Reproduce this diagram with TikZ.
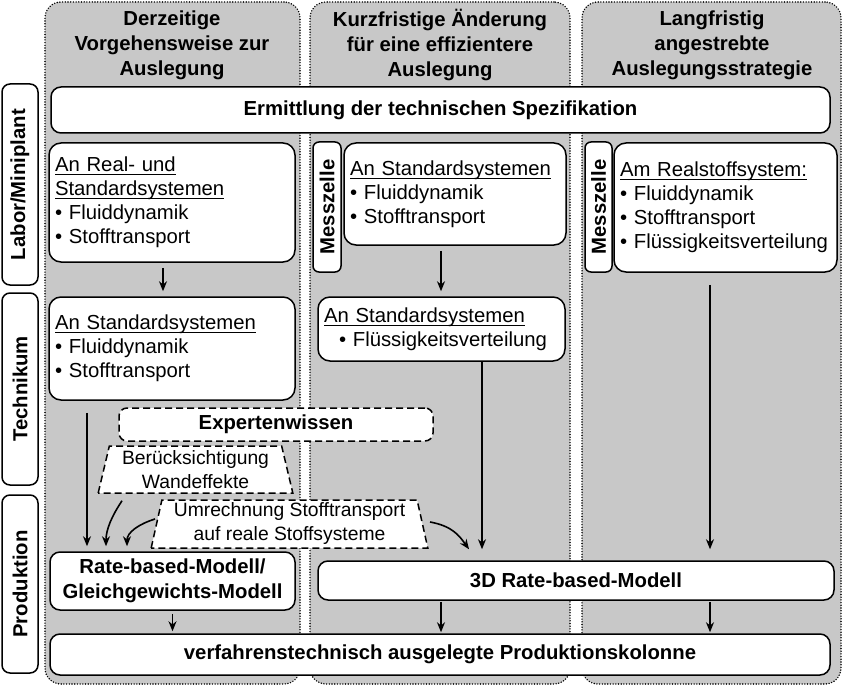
\documentclass[tikz,border=0pt]{standalone}
\usepackage{fontspec}
\setmainfont{Liberation Sans}
\usetikzlibrary{arrows.meta,shapes.geometric}
\definecolor{grau}{HTML}{C8C8C8}
\newcommand{\unterstr}[1]{\leavevmode\setbox0\hbox{#1}\rlap{\rule[-3.6pt]{\wd0}{1.2pt}}\box0}

\begin{document}
\begin{tikzpicture}[x=1pt,y=-1pt,
  font=\fontsize{20.3}{24}\selectfont,
  spalte/.style={draw,line width=1.6pt,line cap=round,dash pattern=on 0pt off 2.7pt,fill=grau,rounded corners=16pt,inner sep=0pt},
  titel/.style={font=\fontsize{20.3}{25}\selectfont\bfseries,align=center},
  ebene/.style={draw,line width=1.5pt,fill=white,rounded corners=8pt,rotate=90,font=\fontsize{20.3}{24}\selectfont\bfseries,inner sep=0pt,minimum height=36pt},
  kasten/.style={draw,line width=1.5pt,fill=white,rounded corners=12pt,inner xsep=6pt,inner ysep=0pt,align=left},
  mitte/.style={draw,line width=1.5pt,fill=white,rounded corners=10pt,inner sep=0pt,align=center,font=\fontsize{20.3}{25}\selectfont\bfseries},
  experte/.style={draw,line width=1.5pt,dash pattern=on 7pt off 4pt,fill=white,rounded corners=8pt,inner sep=0pt,font=\fontsize{20.3}{24}\selectfont\bfseries},
  trapez/.style={draw,line width=1.5pt,dash pattern=on 7pt off 4pt,fill=white,trapezium,trapezium stretches=true,inner sep=0pt,align=center,font=\fontsize{19.3}{24}\selectfont},
  pfeil/.style={-{Stealth[length=10pt,width=8pt]},line width=1.6pt}]
  \useasboundingbox (0,0) rectangle (843,687);
  % Spalten
  \node[spalte,minimum width=255pt,minimum height=682pt] (s1) at (172.5,343) {};
  \node[spalte,minimum width=260pt,minimum height=682pt] (s2) at (440,343) {};
  \node[spalte,minimum width=259pt,minimum height=682pt] (s3) at (711.5,343) {};
  % Titel
  \node[titel] (t1) at (172,45) {Derzeitige\\Vorgehensweise zur\\Auslegung};
  \node[titel] (t2) at (440,45) {Kurzfristige Änderung\\für eine effizientere\\Auslegung};
  \node[titel] (t3) at (712,45) {Langfristig\\angestrebte\\Auslegungsstrategie};
  % Ebenen
  \node[ebene,minimum width=201pt] (labor) at (20,184.5) {Labor/Miniplant};
  \node[ebene,minimum width=192pt] (technikum) at (20,389) {Technikum};
  \node[ebene,minimum width=178pt] (produktion) at (20,584) {Produktion};
  % Labor/Miniplant
  \node[mitte,minimum width=779pt,minimum height=46pt] (spez) at (440.5,110) {Ermittlung der technischen Spezifikation};
  \node[kasten,text width=234pt,minimum height=119pt] (lab1) at (172,202.5) {\unterstr{An Real- und}\\\unterstr{Standardsystemen}\\\textbullet~Fluiddynamik\\\textbullet~Stofftransport};
  \node[ebene,minimum width=130pt,minimum height=28pt,rounded corners=6pt] (mz2) at (327,207) {Messzelle};
  \node[kasten,text width=210pt,minimum height=102pt] (lab2) at (455,194) {\unterstr{An Standardsystemen}\\\textbullet~Fluiddynamik\\\textbullet~Stofftransport};
  \node[ebene,minimum width=130pt,minimum height=27pt,rounded corners=6pt] (mz3) at (598.5,207) {Messzelle};
  \node[kasten,text width=211pt,minimum height=129pt] (lab3) at (725.5,207.5) {\unterstr{Am Realstoffsystem:}\\\textbullet~Fluiddynamik\\\textbullet~Stofftransport\\\textbullet~Flüssigkeitsverteilung};
  % Technikum
  \node[kasten,text width=234pt,minimum height=103pt] (tech1) at (172,348.5) {\unterstr{An Standardsystemen}\\\textbullet~Fluiddynamik\\\textbullet~Stofftransport};
  \node[kasten,text width=235pt,minimum height=64pt] (tech2) at (441.5,329) {\unterstr{An Standardsystemen}\\\hspace*{15pt}\textbullet~Flüssigkeitsverteilung};
  % Expertenwissen
  \node[experte,minimum width=314pt,minimum height=33pt] (exp) at (276,424.5) {Expertenwissen};
  \node[trapez,minimum width=195pt,minimum height=47pt,trapezium angle=76] (wand) at (195.5,469.5) {Berücksichtigung\\Wandeffekte};
  \node[trapez,minimum width=277pt,minimum height=48pt,trapezium angle=77] (umr) at (289.5,524) {Umrechnung Stofftransport\\auf reale Stoffsysteme};
  % Produktion
  \node[mitte,minimum width=245pt,minimum height=58pt] (rb1) at (172.5,581) {Rate-based-Modell/\\Gleichgewichts-Modell};
  \node[mitte,minimum width=516pt,minimum height=39pt] (rb3d) at (576,580.5) {3D Rate-based-Modell};
  \node[mitte,minimum width=780pt,minimum height=41pt] (kolonne) at (440,654.5) {verfahrenstechnisch ausgelegte Produktionskolonne};
  % Pfeile
  \draw[pfeil,shorten <=5pt,shorten >=5pt] ([xshift=-9pt]lab1.south) -- ([xshift=-9pt]tech1.north);
  \draw[pfeil,shorten <=5pt,shorten >=5pt] ([xshift=-14pt]lab2.south) -- ([xshift=-0.5pt]tech2.north);
  \draw[pfeil,shorten <=12pt,shorten >=11pt] ([xshift=-15.5pt]lab3.south) -- ([xshift=134pt]rb3d.north);
  \draw[pfeil,shorten <=12pt,shorten >=5pt] ([xshift=-85pt]tech1.south) -- ([xshift=-85.5pt]rb1.north);
  \draw[pfeil,shorten >=11pt] ([xshift=40.5pt]tech2.south) -- ([xshift=-94pt]rb3d.north);
  \draw[pfeil] ([xshift=-73.5pt,yshift=-7pt]wand.south) .. controls +(-10,15) and +(0,-17) .. ([xshift=-66.5pt,yshift=5pt]rb1.north);
  \draw[pfeil] ([xshift=-134.5pt,yshift=5pt]umr.center) .. controls +(-16,5) and +(0,-14) .. ([xshift=-45.5pt,yshift=5pt]rb1.north);
  \draw[pfeil] ([xshift=140.5pt,yshift=2pt]umr.center) .. controls +(22,4) and +(-10,-14) .. ([xshift=-107pt,yshift=11pt]rb3d.north);
  \draw[pfeil,shorten <=3pt,shorten >=2pt] (rb1.south) -- (rb1.south |- kolonne.north);
  \draw[pfeil,shorten <=1pt,shorten >=1pt] ([xshift=-135pt]rb3d.south) -- ([xshift=1pt]kolonne.north);
  \draw[pfeil,shorten <=1pt,shorten >=1pt] ([xshift=134pt]rb3d.south) -- ([xshift=270pt]kolonne.north);
\end{tikzpicture}
\end{document}
